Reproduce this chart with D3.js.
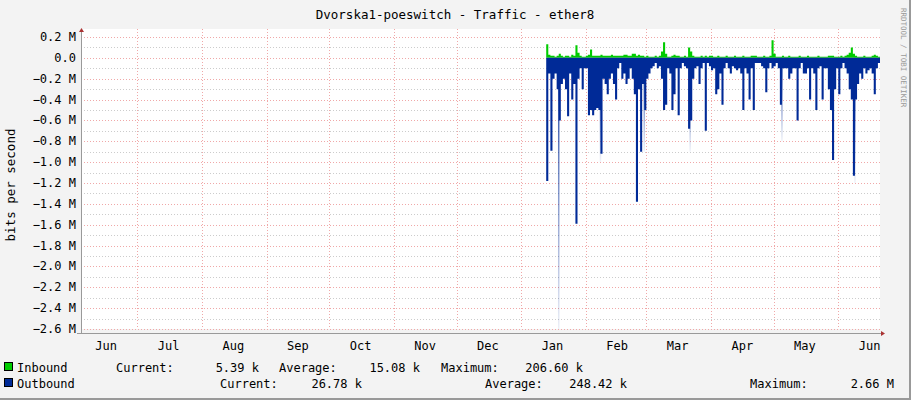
<!doctype html>
<html lang="en">
<head>
<meta charset="utf-8">
<title>Dvorska1-poeswitch - Traffic - ether8</title>
<style type="text/css">
html, body { margin:0; padding:0; background:#f3f3f3; }
svg { display:block; font-family:"DejaVu Sans Mono", monospace; }
</style>
<script src="https://cdn.jsdelivr.net/npm/d3@7/dist/d3.min.js"></script>
</head>
<body>
<svg id="chart" width="911" height="400"></svg>
<script type="text/javascript">
// values in M bits/s, one per day starting 2024-01-13
const dataStart = new Date(2024, 0, 13);
const outbound = [1.18,0.15,0.89,0.2,0.15,0.3,0.6,0.25,0.2,0.3,0.56,0.15,0.4,0.25,1.59,0.2,0.1,0.3,0.1,0.1,
  0.55,0.5,0.55,0.5,0.48,0.5,0.92,0.2,0.25,0.35,0.2,0.15,0.25,0.4,0.1,0.05,0.2,0.15,0.25,0.2,
  0.1,0.2,0.35,1.38,0.3,0.9,0.25,0.5,0.2,0.15,0.1,0.08,0.05,0.1,0.08,0.2,0.5,0.45,0.1,0.15,
  0.5,0.35,0.1,0.55,0.1,0.05,0.08,0.1,0.68,0.6,0.2,0.1,0.08,0.25,0.1,0.05,0.7,0.05,0.08,0.12,
  0.1,0.35,0.3,0.15,0.45,0.1,0.05,0.1,0.15,0.08,0.1,0.12,0.1,0.15,0.5,0.1,0.15,0.4,0.1,0.5,
  0.05,0.05,0.05,0.08,0.1,0.33,0.1,0.05,0.1,0.08,0.05,0.1,0.45,0.1,0.1,0.1,0.2,0.15,0.1,0.1,
  0.6,0.1,0.05,0.15,0.15,0.1,0.4,0.1,0.15,0.5,0.1,0.08,0.4,0.1,0.1,0.3,0.5,0.98,0.3,0.1,
  0.35,0.1,0.05,0.1,0.15,0.3,0.4,1.13,0.4,0.25,0.15,0.2,0.1,0.15,0.12,0.1,0.15,0.35,0.1,0.05,
  0.15,0.05,0.03];
const inbound = [0.13,0.03,0.02,0.02,0.01,0.02,0.04,0.02,0.01,0.02,0.02,0.01,0.03,0.02,0.12,0.05,0.02,0.01,0.01,0.02,
  0.03,0.08,0.02,0.02,0.02,0.02,0.03,0.02,0.02,0.02,0.02,0.03,0.02,0.02,0.02,0.02,0.02,0.03,0.03,0.02,
  0.02,0.04,0.04,0.02,0.03,0.02,0.02,0.01,0.02,0.01,0.01,0.01,0.02,0.01,0.02,0.06,0.15,0.04,0.01,0.01,
  0.02,0.03,0.02,0.02,0.01,0.01,0.02,0.01,0.10,0.06,0.02,0.01,0.01,0.01,0.02,0.01,0.02,0.01,0.02,0.02,
  0.01,0.01,0.02,0.01,0.01,0.01,0.02,0.01,0.01,0.01,0.02,0.01,0.01,0.01,0.02,0.01,0.01,0.01,0.02,0.02,
  0.02,0.01,0.01,0.01,0.02,0.01,0.01,0.02,0.17,0.04,0.01,0.01,0.01,0.02,0.01,0.01,0.02,0.01,0.01,0.01,
  0.01,0.02,0.01,0.01,0.01,0.02,0.01,0.01,0.01,0.01,0.02,0.01,0.01,0.01,0.01,0.02,0.02,0.02,0.01,0.01,
  0.01,0.02,0.01,0.02,0.03,0.05,0.10,0.04,0.02,0.01,0.01,0.01,0.02,0.01,0.01,0.01,0.02,0.03,0.02,0.01,
  0.02,0.01,0.01];
// short peaks that rrdtool smears out (day index, value in M)
const peakDays = [6, 26, 47, 69, 113, 148];
const peakValues = [2.66, 1.0, 0.9, 0.9, 0.8, 1.2];
const yTicks = [0.2,0,-0.2,-0.4,-0.6,-0.8,-1.0,-1.2,-1.4,-1.6,-1.8,-2.0,-2.2,-2.4,-2.6];
const legendRows = [
  {name:"Inbound", color:"#00cc00", items:[["Current:",116,"5.39 k",259],["Average:",279,"15.08 k",420],["Maximum:",441,"206.60 k",583]]},
  {name:"Outbound", color:"#002a97", items:[["Current:",220,"26.78 k",362],["Average:",485,"248.42 k",627],["Maximum:",750,"2.66 M",894]]}
];

const svg = d3.select("#chart");
const pL = 81, pR = 880, pT = 37, pB = 329;
const x = d3.scaleTime().domain([new Date(2023,5,4), new Date(2024,5,21)]).range([pL, pR]);
const y = d3.scaleLinear().domain([-2.6, 0.2]).range([pB, pT]);
const dayDate = i => d3.timeDay.offset(dataStart, i);

svg.append("rect").attr("width",911).attr("height",400).attr("fill","#f3f3f3");
svg.append("rect").attr("x",909).attr("y",0).attr("width",2).attr("height",400).attr("fill","#999");
svg.append("rect").attr("x",0).attr("y",398).attr("width",911).attr("height",2).attr("fill","#999");
svg.append("rect").attr("x",pL).attr("y",pT-8).attr("width",pR-pL).attr("height",pB-pT+8).attr("fill","#fff");

// minor horizontal grid every 0.1
d3.range(-26, 3, 1).forEach(k => {
  const yy = Math.round(y(k/10))+0.5;
  svg.append("line").attr("x1",pL).attr("x2",pR).attr("y1",yy).attr("y2",yy)
    .attr("stroke","#ccc").attr("stroke-dasharray","1,2");
});
yTicks.forEach(v => {
  const yy = Math.round(y(v))+0.5;
  svg.append("line").attr("x1",pL).attr("x2",pR).attr("y1",yy).attr("y2",yy)
    .attr("stroke","#f0a8a8").attr("stroke-dasharray","1,2");
  svg.append("text").attr("x",76).attr("y",y(v)+4).attr("text-anchor","end").attr("font-size",12).attr("fill","#000")
    .text(v === 0 ? "0.0" : d3.format(".1f")(v) + " M");
});
d3.timeMonth.range(new Date(2023,6,1), new Date(2024,5,2)).forEach(m => {
  const xx = Math.round(x(m))+0.5;
  svg.append("line").attr("x1",xx).attr("x2",xx).attr("y1",pT-8).attr("y2",pB)
    .attr("stroke","#f0a8a8").attr("stroke-dasharray","1,2");
});
d3.timeMonth.range(new Date(2023,5,1), new Date(2024,6,1)).forEach(m => {
  svg.append("text").attr("x",x(d3.timeDay.offset(m,15))).attr("y",350).attr("text-anchor","middle").attr("font-size",12)
    .text(d3.timeFormat("%b")(m));
});

// data areas
const defs = svg.append("defs");
defs.append("clipPath").attr("id","clip").append("rect").attr("x",pL).attr("y",pT-8).attr("width",pR-pL).attr("height",pB-pT+8);
const grad = defs.append("linearGradient").attr("id","fade").attr("x1",0).attr("y1",0).attr("x2",0).attr("y2",1);
grad.append("stop").attr("offset","0%").attr("stop-color","#002a97").attr("stop-opacity",0.9);
grad.append("stop").attr("offset","100%").attr("stop-color","#002a97").attr("stop-opacity",0.05);
const g = svg.append("g").attr("clip-path","url(#clip)");
peakDays.forEach((d,i) => {
  g.append("rect").attr("x",x(dayDate(d))-0.75).attr("width",1.5).attr("y",y(0)).attr("height",y(-peakValues[i])-y(0)).attr("fill","url(#fade)");
});
g.append("path").datum(inbound).attr("fill","#00cc00")
  .attr("d", d3.area().curve(d3.curveStepAfter).x((d,i)=>x(dayDate(i))).y0(y(0)).y1(d=>y(d)));
g.append("path").datum(outbound).attr("fill","#002a97")
  .attr("d", d3.area().curve(d3.curveStepAfter).x((d,i)=>x(dayDate(i))).y0(y(0)).y1(d=>y(-d)));

// axes
svg.append("line").attr("x1",pL+0.5).attr("x2",pL+0.5).attr("y1",pT-6).attr("y2",pB+4).attr("stroke","#999");
svg.append("line").attr("x1",pL-4).attr("x2",pR+2).attr("y1",pB+4.5).attr("y2",pB+4.5).attr("stroke","#999");
svg.append("path").attr("d",`M${pL-2},${pT-5}L${pL+3},${pT-5}L${pL+0.5},${pT-9}Z`).attr("fill","#a33");
svg.append("path").attr("d",`M${pR+1},${pB+2}L${pR+1},${pB+7}L${pR+5},${pB+4.5}Z`).attr("fill","#a33");

svg.append("text").attr("x",455).attr("y",19).attr("text-anchor","middle").attr("font-size",12.5).text("Dvorska1-poeswitch - Traffic - ether8");
svg.append("text").attr("transform","translate(15,185) rotate(-90)").attr("text-anchor","middle").attr("font-size",12.5).text("bits per second");
svg.append("text").attr("transform","translate(901,8) rotate(90)").attr("font-size",7.5).attr("fill","#999").text("RRDTOOL / TOBI OETIKER");

legendRows.forEach((r,i) => {
  const ly = 372 + i*16;
  svg.append("rect").attr("x",4.5).attr("y",ly-9.5).attr("width",8).attr("height",8).attr("fill",r.color).attr("stroke","#000");
  svg.append("text").attr("x",17).attr("y",ly).attr("font-size",12).text(r.name);
  r.items.forEach(it => {
    svg.append("text").attr("x",it[1]).attr("y",ly).attr("font-size",12).text(it[0]);
    svg.append("text").attr("x",it[3]).attr("y",ly).attr("text-anchor","end").attr("font-size",12).text(it[2]);
  });
});
</script>
</body>
</html>
